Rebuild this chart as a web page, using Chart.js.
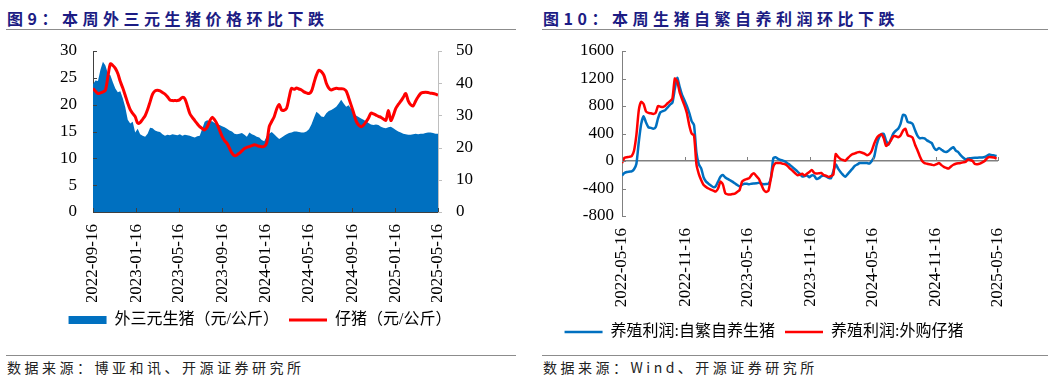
<!DOCTYPE html>
<html>
<head>
<meta charset="utf-8">
<script src="https://cdn.jsdelivr.net/npm/chart.js@4.4.1/dist/chart.umd.min.js"></script>
<style>
body { margin: 0; background: #fff; width: 1057px; height: 381px; position: relative; overflow: hidden; font-family: 'Noto Sans CJK SC', sans-serif; }
.title { position: absolute; top: 6px; font-weight: bold; font-size: 16px; letter-spacing: 4.5px; color: #1c1c84; white-space: nowrap; }
.rule { position: absolute; height: 1px; background: #8c8c8c; }
.src { position: absolute; top: 357px; font-size: 14px; letter-spacing: 3.5px; color: #222; white-space: nowrap; }
.box { position: absolute; top: 0; }
</style>
</head>
<body>
<div class="title" style="left:7px">图9：本周外三元生猪价格环比下跌</div>
<div class="rule" style="left:6px;width:510px;top:29px"></div>
<div class="title" style="left:543px">图10：本周生猪自繁自养利润环比下跌</div>
<div class="rule" style="left:542px;width:506px;top:29px"></div>

<div class="box" style="left:0;width:520px;height:338px"><canvas id="porkChart"></canvas></div>
<div class="box" style="left:530px;width:527px;height:350px"><canvas id="profitChart"></canvas></div>

<div class="rule" style="left:6px;width:510px;top:355px"></div>
<div class="src" style="left:7px">数据来源：博亚和讯、开源证券研究所</div>
<div class="rule" style="left:542px;width:506px;top:355px"></div>
<div class="src" style="left:543px">数据来源：Wind、开源证券研究所</div>

<script>
// 图9: weekly data from 2022-09-16
var porkStart = '2022-09-16';
var porkTickDates = ['2022-09-16', '2023-01-16', '2023-05-16', '2023-09-16', '2024-01-16',
    '2024-05-16', '2024-09-16', '2025-01-16', '2025-05-16'];

// 外三元生猪（元/公斤）, left axis
var hogPrice = [
    23.8, 24.5, 24.4, 26.5, 28.0, 27.3, 25.8, 25.5, 24.2, 23.0,
    22.3, 22.5, 21.2, 19.5, 17.2, 16.5, 16.8, 14.8, 15.5, 14.5,
    14.2, 14.0, 14.6, 15.7, 15.6, 15.2, 15.0, 14.9, 14.5, 14.2,
    14.4, 14.3, 14.5, 14.4, 14.3, 14.5, 14.2, 14.4, 14.3, 14.2,
    14.0, 13.9, 14.1, 14.2, 15.5, 16.8, 17.1, 16.9, 16.9, 16.6,
    16.4, 16.2, 16.0, 15.8, 15.5, 15.2, 15.0, 14.6, 14.5, 14.6,
    14.7, 14.4, 14.0, 14.8, 14.5, 14.3, 14.0, 13.9, 13.4, 13.2,
    14.1, 14.6, 14.9, 14.5, 14.0, 13.6, 13.9, 14.2, 14.5, 14.7,
    14.8, 15.0, 15.0, 14.9, 14.8, 14.8, 15.0, 15.4, 16.3, 17.5,
    18.7, 18.3, 17.8, 17.7, 18.4, 18.8, 19.0, 19.3, 19.6, 20.2,
    20.9, 20.2, 19.6, 19.9, 19.2, 18.6, 18.0, 17.7, 17.4, 17.2,
    16.9, 16.6, 16.3, 16.2, 16.3, 16.2, 15.9, 15.7, 15.6, 15.8,
    15.9, 15.6, 15.3, 15.0, 14.8, 14.6, 14.5, 14.4, 14.4, 14.5,
    14.6, 14.5, 14.6, 14.6, 14.7, 14.8, 14.8, 14.7, 14.6, 14.6
];

// 仔猪（元/公斤）, right axis
var pigletPrice = [
    38.4, 37.5, 36.8, 37.0, 37.3, 37.8, 42.0, 46.0, 45.5, 44.6,
    43.0, 40.5, 38.5, 36.2, 33.8, 31.8, 30.6, 29.6, 27.6, 27.8,
    28.8, 29.9, 31.8, 34.2, 36.6, 37.6, 37.8, 37.6, 37.1, 36.6,
    35.8, 34.8, 34.6, 34.6, 34.6, 34.9, 35.6, 35.2, 33.0, 30.6,
    29.4, 28.4, 27.4, 26.5, 25.9, 25.5, 26.4, 28.2, 29.4, 28.6,
    27.3, 25.4, 23.5, 22.2, 21.3, 19.8, 18.3, 17.5, 17.7, 18.3,
    19.0, 19.7, 20.1, 20.3, 20.6, 20.9, 20.7, 20.4, 20.3, 20.4,
    21.5, 26.5, 28.1, 29.6, 32.0, 33.4, 31.7, 31.6, 32.2, 35.5,
    38.4, 38.1, 38.5, 38.2, 37.9, 37.3, 37.0, 36.8, 37.5, 40.0,
    42.5, 44.0, 43.6, 42.5, 40.0, 38.5, 37.9, 38.2, 38.4, 38.3,
    38.3, 38.2, 37.6, 35.5, 33.2, 30.8, 28.3, 27.0, 26.5, 27.0,
    28.0, 29.2, 30.7, 30.5, 30.1, 29.7, 29.4, 28.9, 28.5, 31.5,
    28.4, 30.0, 32.2, 33.4, 34.4, 35.6, 36.8, 34.5, 33.3, 33.0,
    34.5, 35.8, 36.8, 37.1, 37.2, 37.1, 36.9, 36.8, 36.6, 36.3
];

// 图10: weekly data from 2022-05-16
var profitStart = '2022-05-16';
var profitTickDates = ['2022-05-16', '2022-11-16', '2023-05-16', '2023-11-16',
    '2024-05-16', '2024-11-16', '2025-05-16'];

// 养殖利润:自繁自养生猪 (元/头)
var profitSelfBred = [
    -210, -175, -160, -155, -150, -120, -40, 280, 540, 650,
    560, 490, 482, 470, 490, 620, 710, 725, 740, 780,
    820, 850, 1050, 1210, 1080, 960, 885, 800, 700, 580,
    520, 120, -50, -110, -240, -300, -330, -355, -380, -370,
    -300, -230, -205, -240, -260, -280, -300, -325, -350, -370,
    -345, -330, -332, -337, -330, -328, -325, -318, -330, -337,
    -335, -330, -250, 40, 55, 30, 15, 5, -10, -35,
    -60, -90, -120, -150, -185, -225, -220, -210, -235, -210,
    -215, -260, -250, -222, -210, -225, -245, -250, -150, -50,
    -110, -160, -200, -230, -190, -150, -110, -70, -50, -30,
    -28, -29, -30, -38, 0, 60, 230, 340, 390, 395,
    290, 240, 320, 400, 440, 470, 540, 670, 660, 565,
    560, 540, 450, 370, 330, 335, 330, 300, 280, 260,
    190, 160, 190, 165, 140, 130, 150, 180, 200, 150,
    130, 85, 50, 25, 35, 40, 45, 48, 48, 50,
    52, 58, 75, 96, 85, 80, 72
];

// 养殖利润:外购仔猪 (元/头)
var profitBoughtPiglet = [
    -30, 45, 55, 60, 70, 150, 380, 740, 860, 830,
    720, 700, 694, 685, 700, 800, 790, 785, 805, 840,
    870, 910, 1200, 1160, 1000, 900, 810, 700, 520, 400,
    370, -50, -190, -280, -350, -378, -400, -415, -430, -445,
    -400, -300, -340, -470, -485, -487, -480, -475, -450, -420,
    -300, -275, -262, -250, -200, -180, -220, -260, -340, -420,
    -450, -430, -250, -80, -30, -28, -30, -40, -50, -75,
    -110, -140, -175, -205, -200, -185, -210, -185, -160, -130,
    -170, -183, -178, -175, -205, -215, -231, -220, -200, 100,
    60, 30, 15, 5, 40, 75, 100, 110, 125, 130,
    120, 106, 85, 100, 150, 250, 330, 370, 390, 330,
    220, 250, 300, 360, 360, 345, 370, 440, 470, 375,
    360, 340, 240, 160, 70, 0, -30, -40, -48, -55,
    -60, -45, -30, -60, -85, -100, -110, -80, -55, -40,
    -33, -29, -20, -14, 20, 15, 0, -45, -48, -39,
    -20, 0, 40, 58, 55, 50, 35
];

var BLUE = '#0070c0';
var RED = '#ff0000';
var tickFont = { family: "'Liberation Serif', 'Noto Sans CJK SC'", size: 17 };
var legendFont = { family: "'Liberation Serif', 'Noto Sans CJK SC'", size: 16 };

function weekOf(start, d) {
    return (Date.parse(d) - Date.parse(start)) / (7 * 86400000);
}

function toPoints(values) {
    return values.map(function (v, i) { return { x: i, y: v }; });
}

// short tick marks drawn on the axis lines, inside or outside the plot
function tickMarks(marks) {
    return {
        id: 'tickMarks',
        afterDatasetsDraw: function (chart) {
            var ctx = chart.ctx;
            ctx.save();
            ctx.lineWidth = 1;
            marks.forEach(function (m) {
                var s = chart.scales[m.axis];
                ctx.strokeStyle = m.color;
                s.ticks.forEach(function (t) {
                    var p = Math.round(s.getPixelForValue(t.value)) + 0.5;
                    ctx.beginPath();
                    if (s.isHorizontal()) {
                        var y = m.zeroOn ? chart.scales[m.zeroOn].getPixelForValue(0) : s.top;
                        ctx.moveTo(p, y);
                        ctx.lineTo(p, y + m.len);
                    } else {
                        var x = s.position === 'left' ? s.right : s.left;
                        ctx.moveTo(x, p);
                        ctx.lineTo(x + m.len, p);
                    }
                    ctx.stroke();
                });
            });
            ctx.restore();
        }
    };
}

function dateAxis(start, tickDates, max, height, showBorder) {
    return {
        type: 'linear',
        min: 0,
        max: max,
        afterBuildTicks: function (s) {
            s.ticks = tickDates.map(function (d) { return { value: weekOf(start, d) }; });
        },
        afterFit: function (s) { s.height = height; },
        ticks: {
            autoSkip: false,
            minRotation: 90,
            maxRotation: 90,
            padding: 4,
            color: '#000',
            font: tickFont,
            callback: function (v, i) { return tickDates[i]; }
        },
        grid: { display: false },
        border: { display: showBorder, color: '#404040', width: 1 }
    };
}

function legendOpts() {
    return {
        position: 'bottom',
        labels: {
            usePointStyle: true,
            pointStyleWidth: 38,
            boxHeight: 8,
            padding: 10,
            color: '#000',
            font: legendFont,
            sort: function (a, b) { return a.datasetIndex - b.datasetIndex; }
        }
    };
}

function plainNumber(v) {
    return String(v);
}

new Chart(document.getElementById('porkChart'), {
    type: 'line',
    data: {
        datasets: [{
            label: '外三元生猪（元/公斤）',
            data: toPoints(hogPrice),
            yAxisID: 'y',
            backgroundColor: BLUE,
            borderColor: BLUE,
            borderWidth: 0,
            fill: 'origin',
            pointRadius: 0,
            pointStyle: 'rect',
            order: 2
        }, {
            label: '仔猪（元/公斤）',
            data: toPoints(pigletPrice),
            yAxisID: 'y1',
            backgroundColor: RED,
            borderColor: RED,
            borderWidth: 3,
            pointRadius: 0,
            pointStyle: 'line',
            tension: 0.3,
            order: 1
        }]
    },
    options: {
        responsive: true,
        maintainAspectRatio: false,
        animation: false,
        layout: { padding: { top: 51, left: 0, right: 0, bottom: 0 } },
        plugins: {
            legend: legendOpts(),
            tooltip: { enabled: false },
            filler: { drawTime: 'beforeDatasetsDraw' }
        },
        scales: {
            x: dateAxis(porkStart, porkTickDates, 139, 90, true),
            y: {
                position: 'left',
                min: 0,
                max: 30,
                afterFit: function (s) { s.width = 93; },
                ticks: { stepSize: 5, color: '#000', font: tickFont, padding: 8, callback: plainNumber },
                grid: { display: false },
                border: { color: '#404040', width: 1 }
            },
            y1: {
                position: 'right',
                min: 0,
                max: 50,
                afterFit: function (s) { s.width = 82; },
                ticks: { stepSize: 10, color: '#000', font: tickFont, padding: 10, callback: plainNumber },
                grid: { display: false },
                border: { color: '#bfbfbf', width: 1 }
            }
        }
    },
    plugins: [tickMarks([
        { axis: 'y', len: 4, color: '#404040' },
        { axis: 'y1', len: 4, color: '#bfbfbf' },
        { axis: 'x', len: -4, color: '#404040' }
    ])]
});

new Chart(document.getElementById('profitChart'), {
    type: 'line',
    data: {
        datasets: [{
            label: '养殖利润:自繁自养生猪',
            data: toPoints(profitSelfBred),
            borderColor: BLUE,
            backgroundColor: BLUE,
            borderWidth: 2.5,
            pointRadius: 0,
            pointStyle: 'line',
            tension: 0.2,
            order: 2
        }, {
            label: '养殖利润:外购仔猪',
            data: toPoints(profitBoughtPiglet),
            borderColor: RED,
            backgroundColor: RED,
            borderWidth: 2.5,
            pointRadius: 0,
            pointStyle: 'line',
            tension: 0.2,
            order: 1
        }]
    },
    options: {
        responsive: true,
        maintainAspectRatio: false,
        animation: false,
        layout: { padding: { top: 51, left: 0, right: 59, bottom: 0 } },
        plugins: {
            legend: legendOpts(),
            tooltip: { enabled: false }
        },
        scales: {
            x: dateAxis(profitStart, profitTickDates, weekOf(profitStart, '2025-05-16'), 98, false),
            y: {
                min: -800,
                max: 1600,
                afterFit: function (s) { s.width = 92; },
                ticks: { stepSize: 400, color: '#000', font: tickFont, padding: 8, callback: plainNumber },
                grid: {
                    drawTicks: false,
                    lineWidth: 1.5,
                    color: function (c) { return c.tick && c.tick.value === 0 ? '#808080' : 'rgba(0,0,0,0)'; }
                },
                border: { color: '#808080', width: 1 }
            }
        }
    },
    plugins: [tickMarks([
        { axis: 'y', len: 4, color: '#808080' },
        { axis: 'x', len: -4, color: '#808080', zeroOn: 'y' }
    ])]
});
</script>
</body>
</html>
